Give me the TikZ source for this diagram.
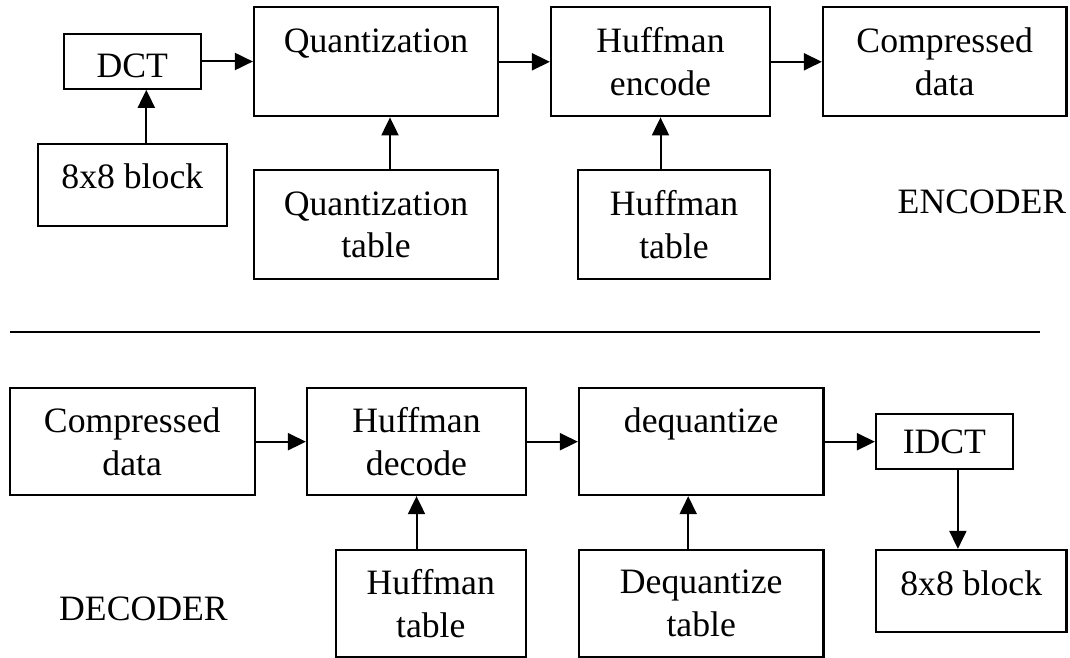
\documentclass[tikz,border=0pt]{standalone}
\usepackage{fontspec}
\setmainfont{Liberation Serif}
\usetikzlibrary{arrows.meta}
\newcommand\shiftup[2]{\raisebox{#1}[\height][\depth]{#2}}
\begin{document}
\begin{tikzpicture}[x=1pt,y=-1pt,
  blk/.style={draw=black, line width=2.2pt, inner sep=0pt, align=center,
    font=\fontsize{35.7}{42.6}\selectfont},
  lbl/.style={inner sep=0pt, anchor=base, font=\fontsize{35.7}{42.6}\selectfont},
  arr/.style={line width=2pt, -{Triangle[length=18pt,width=17pt]}}]
\useasboundingbox (0,0) rectangle (1070,658);
% ---------- encoder ----------
\node[blk, minimum width=137.3pt, minimum height=54.4pt] (dct) at (132.3,61.5) {\shiftup{-4pt}{DCT}};
\node[blk, minimum width=244pt, minimum height=109pt] (quant) at (376,61.8) {Quantization\\~};
\node[blk, minimum width=219pt, minimum height=109pt] (henc) at (660.5,61.8) {Huffman\\encode};
\node[blk, minimum width=243.5pt, minimum height=109pt] (cenc) at (944.7,61.8) {Compressed\\data};
\node[blk, minimum width=188.6pt, minimum height=81.7pt] (b8e) at (132.3,184.8) {\shiftup{9pt}{8x8 block}};
\node[blk, minimum width=244pt, minimum height=109.3pt] (qtab) at (376,224.7) {Quantization\\table};
\node[blk, minimum width=192pt, minimum height=109.3pt] (htab) at (674,224.7) {Huffman\\table};
\node[lbl] (enc) at (982,213) {ENCODER};
\draw[arr] (dct.east) -- (dct.east -| quant.west);
\draw[arr] (quant.east) -- (henc.west);
\draw[arr] (henc.east) -- (cenc.west);
\draw[arr] ([xshift=14pt]b8e.north) -- ([xshift=14pt]dct.south);
\draw[arr] ([xshift=14pt]qtab.north) -- ([xshift=14pt]quant.south);
\draw[arr] (henc.south |- htab.north) -- (henc.south);
% ---------- separator ----------
\coordinate (sepl) at (9.6,332.3);
\coordinate (sepr) at (1039.6,332.3);
\draw[line width=2pt] (sepl) -- (sepr);
% ---------- decoder ----------
\node[blk, minimum width=245.2pt, minimum height=106.7pt] (cdec) at (132.2,441.7) {Compressed\\data};
\node[blk, minimum width=219pt, minimum height=106.7pt] (hdec) at (416.5,441.7) {Huffman\\decode};
\node[blk, minimum width=244.4pt, minimum height=106.7pt] (deq) at (701.2,441.7) {dequantize\\~};
\node[blk, minimum width=136.8pt, minimum height=55.3pt] (idct) at (944.4,441.7) {IDCT};
\node[blk, minimum width=190.5pt, minimum height=81.7pt] (b8d) at (971.2,590.8) {\shiftup{8pt}{8x8 block}};
\node[blk, minimum width=190.3pt, minimum height=106.7pt] (htd) at (430.8,603.3) {Huffman\\table};
\node[blk, minimum width=244.4pt, minimum height=106.7pt] (dqt) at (701.2,603.3) {Dequantize\\table};
\node[lbl] (dec) at (143.5,620) {DECODER};
\draw[arr] (cdec.east) -- (hdec.west);
\draw[arr] (hdec.east) -- (deq.west);
\draw[arr] (deq.east) -- (idct.west);
\draw[arr] (hdec.south |- htd.north) -- (hdec.south);
\draw[arr] ([xshift=-13pt]dqt.north) -- ([xshift=-13pt]deq.south);
\draw[arr] ([xshift=13.5pt]idct.south) -- ([xshift=13.5pt]idct.south |- b8d.north);
\end{tikzpicture}
\end{document}
